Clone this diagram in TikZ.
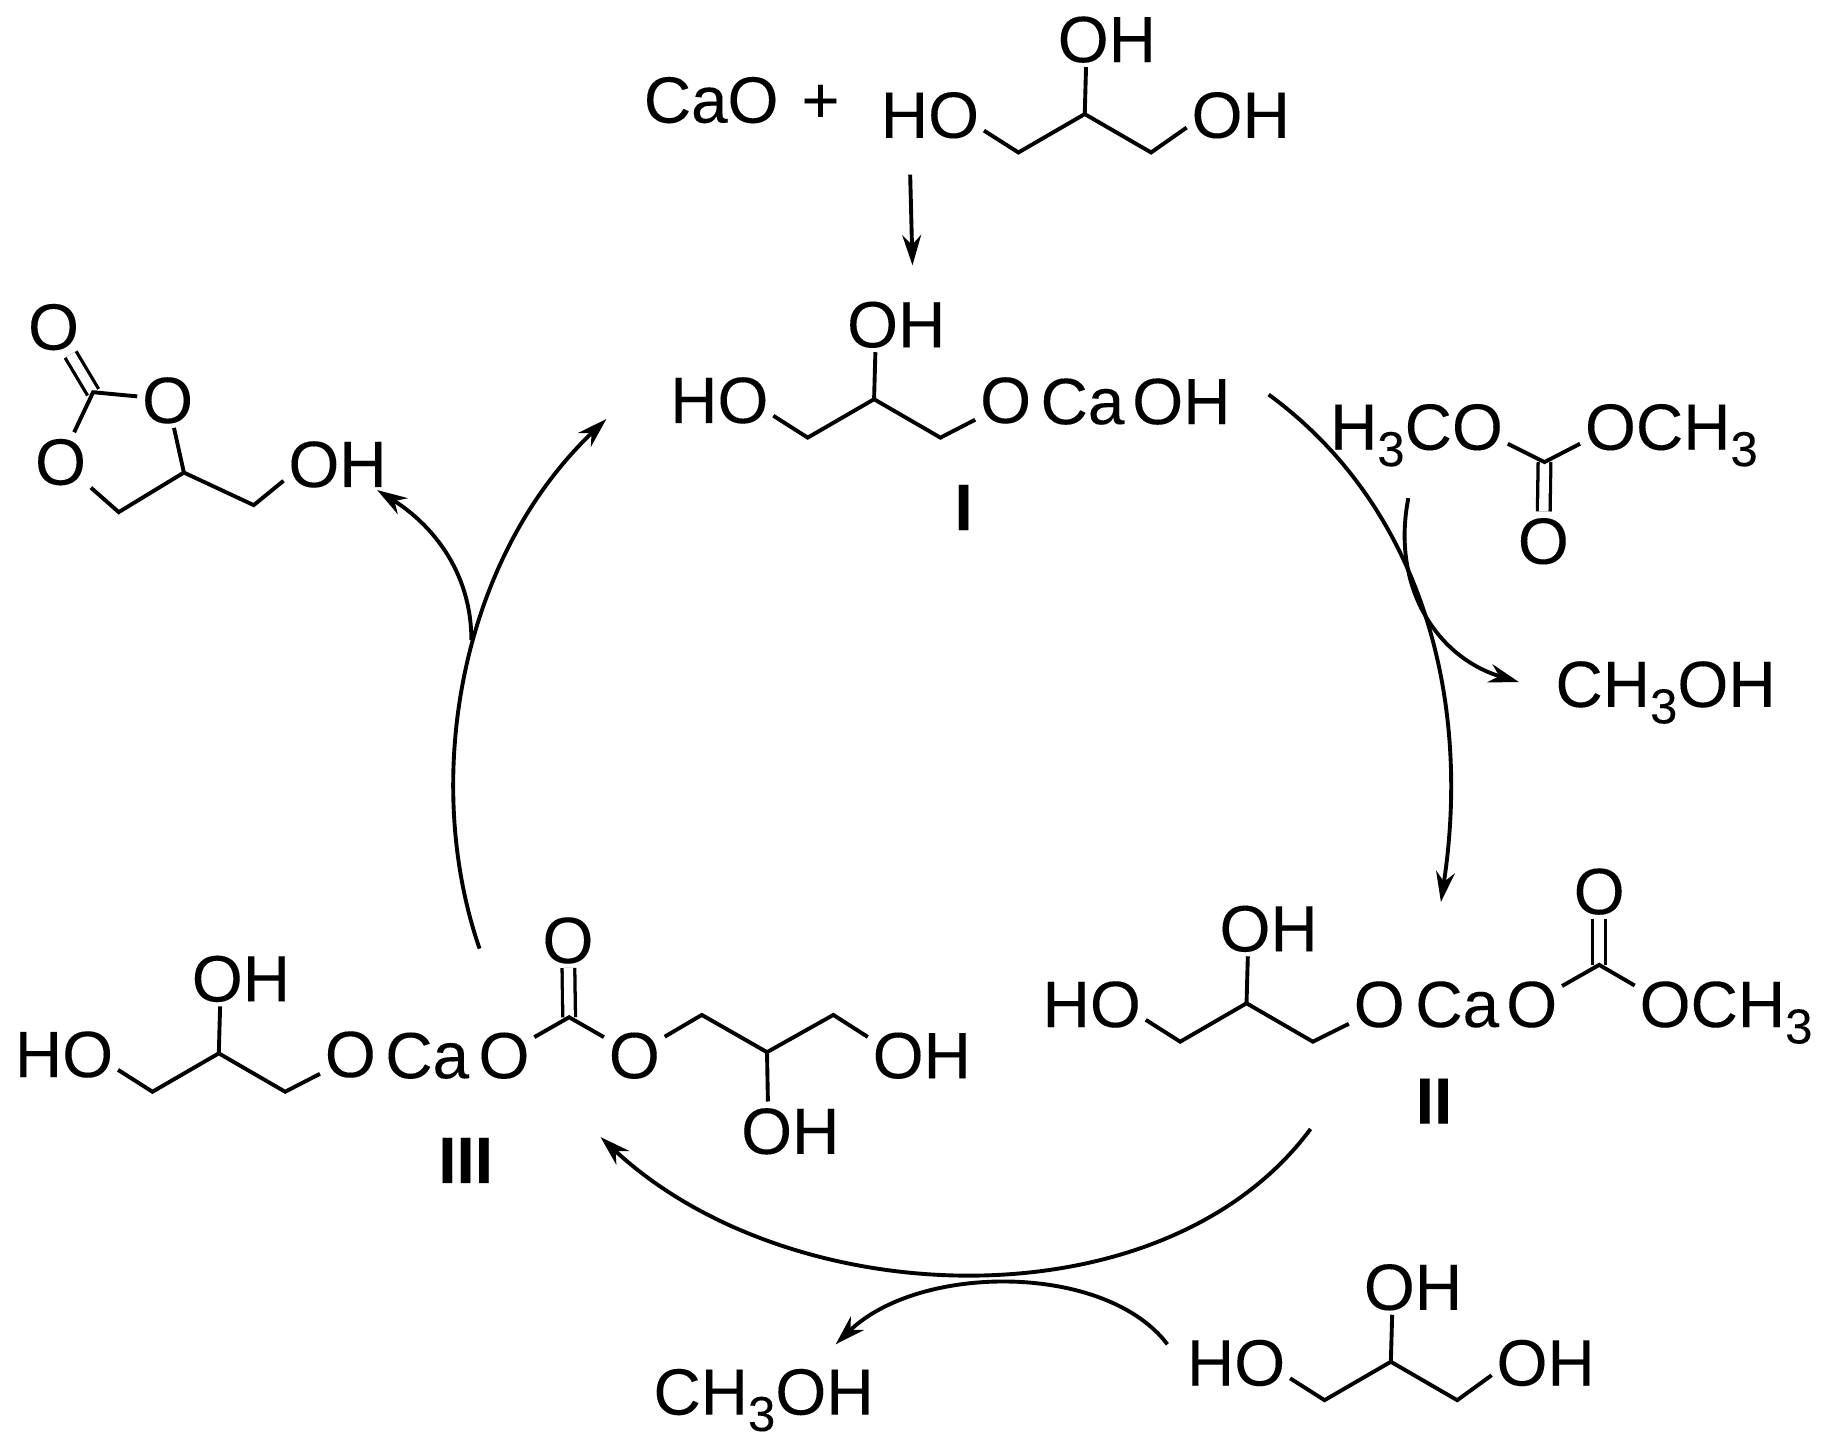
\documentclass[tikz,border=0pt]{standalone}
\usepackage{fontspec}
\setmainfont[FakeBold=0.12]{Liberation Sans}
\usetikzlibrary{arrows.meta}
\usetikzlibrary{calc}
\newcommand{\subthree}{\raisebox{-4pt}{\fontsize{12}{12}\selectfont 3}}
\tikzset{
    atom/.style={inner sep=1pt, text height=11.6pt, text depth=0pt, font=\fontsize{16}{16}\selectfont},
    tag/.style={atom, font=\fontsize{16}{16}\selectfont\bfseries},
    bond/.style={line width=0.95pt, line join=miter},
    dbond/.style={line width=0.8pt, double, double distance=2.3pt},
    turn/.style={line width=0.95pt, -{Stealth[length=7.4pt,width=4.6pt]}}
}

\begin{document}
\begin{tikzpicture}[x=0.01cm, y=-0.01cm]
    \useasboundingbox (0,0) rectangle (1568,1245);

    % Glycerol backbones: name/x/y of the middle carbon, then the right-hand atom
    \foreach \gname/\cx/\cy/\rx/\rtext/\rang in {top/932/98/134/OH/194, bot/1195/1170/133/OH/194, one/751/343/113/O/214, two/1071/862/114/O/214, thr/188/905/113/O/214} {
        \begin{scope}[shift={(\cx,\cy)}]
            \node[atom] (\gname ho) at (-133,0) {HO};
            \node[atom] (\gname up) at (19,-65) {OH};
            \node[atom] (\gname rt) at (\rx,0) {\rtext};
            \coordinate (\gname a) at (-57,33);
            \coordinate (\gname b) at (0,0);
            \coordinate (\gname c) at (57,33);
            \draw[bond] (\gname ho.-17) -- (\gname a) -- (\gname b) -- (\gname c) -- (\gname rt.\rang); % Chain
            \draw[bond] (\gname b) -- (\gname up.234); % Middle OH
        \end{scope}
    }

    % Starting materials
    \node[atom] (cao) at (611,85) {CaO};
    \node[atom] (plus) at (705,85) {+};
    \coordinate (feedA) at (782,150);
    \coordinate (feedB) at (784,228);
    \draw[turn] (feedA) -- (feedB);

    % Species I
    \node[atom] (oneca) at (930,344) {Ca};
    \node[atom] (oneoh) at (1015,344) {OH};
    \node[tag] (onetag) at (828,435) {I};

    % Dimethyl carbonate
    \node[atom] (dmcl) at (1217,366) {H\subthree CO};
    \node[atom] (dmcr) at (1436,366) {OCH\subthree};
    \node[atom] (dmco) at (1326,464) {O};
    \coordinate (dmcc) at (1327,397);
    \draw[dbond] (dmcc) -- (dmco);
    \draw[bond] (dmcl.349) -- (dmcc) -- (dmcr.191);
    \node[atom] (meohr) at (1431,587) {CH\subthree OH};

    % Species II
    \node[atom] (twoca) at (1252,862) {Ca};
    \node[atom] (twoo) at (1316,862) {O};
    \node[atom] (twoup) at (1374,765) {O};
    \node[atom] (twome) at (1483,862) {OCH\subthree};
    \coordinate (twoc) at (1374,829);
    \draw[dbond] (twoc) -- (twoup);
    \draw[bond] (twoo) -- (twoc) -- (twome.169);
    \node[tag] (twotag) at (1232,945) {II};

    % Species III
    \node[atom] (thrca) at (367,906) {Ca};
    \node[atom] (thro) at (433,906) {O};
    \node[atom] (thrup) at (488,807) {O};
    \node[atom] (thrs) at (545,906) {O};
    \node[atom] (throh) at (792,906) {OH};
    \node[atom] (thrlow) at (679,971) {OH};
    \coordinate (thrc) at (489,874);
    \coordinate (thrd) at (603,872);
    \coordinate (thre) at (659,904);
    \coordinate (thrf) at (716,872);
    \draw[dbond] (thrc) -- (thrup);
    \draw[bond] (thro) -- (thrc) -- (thrs);
    \draw[bond] (thrs) -- (thrd) -- (thre) -- (thrf) -- (throh.162);
    \draw[bond] (thre) -- (thrlow.128);
    \node[tag] (thrtag) at (400,996) {III};

    % Cyclic carbonate
    \node[atom] (cyctop) at (46,280) {O};
    \node[atom] (cycr) at (144,343) {O};
    \node[atom] (cycl) at (52,396) {O};
    \node[atom] (cycoh) at (290,398) {OH};
    \coordinate (cycc) at (80,337);
    \coordinate (cycd) at (158,406);
    \coordinate (cyce) at (102,440);
    \coordinate (cycf) at (218,434);
    \draw[dbond] (cycc) -- (cyctop);
    \draw[bond] (cycl) -- (cycc) -- (cycr) -- (cycd) -- (cyce) -- (cycl);
    \draw[bond] (cycd) -- (cycf) -- (cycoh.198);

    % Methanol below
    \node[atom] (meohb) at (656,1195) {CH\subthree OH};

    % Cycle arrows
    \coordinate (goA) at (1090,339);
    \coordinate (goB) at (1238,775);
    \draw[turn] (goA) .. controls (1220,434) and (1265,598) .. (goB); % I to II
    \coordinate (dmcA) at (1210,428);
    \coordinate (dmcB) at (1305,586);
    \draw[turn] (dmcA) .. controls (1195,505) and (1235,565) .. (dmcB); % DMC in, methanol out
    \coordinate (goC) at (1126,970);
    \coordinate (goD) at (516,977);
    \draw[turn] (goC) .. controls (1000,1140) and (680,1130) .. (goD); % II to III
    \coordinate (glyA) at (1003,1155);
    \coordinate (glyB) at (718,1155);
    \draw[turn] (glyA) .. controls (950,1085) and (790,1085) .. (glyB); % Glycerol in, methanol out
    \coordinate (goE) at (412,815);
    \coordinate (goF) at (521,360);
    \draw[turn] (goE) .. controls (362,670) and (395,480) .. (goF); % III to I
    \coordinate (offA) at (405,550);
    \coordinate (offB) at (324,421);
    \draw[turn] (offA) .. controls (405,490) and (370,450) .. (offB); % Product leaves
\end{tikzpicture}
\end{document}
